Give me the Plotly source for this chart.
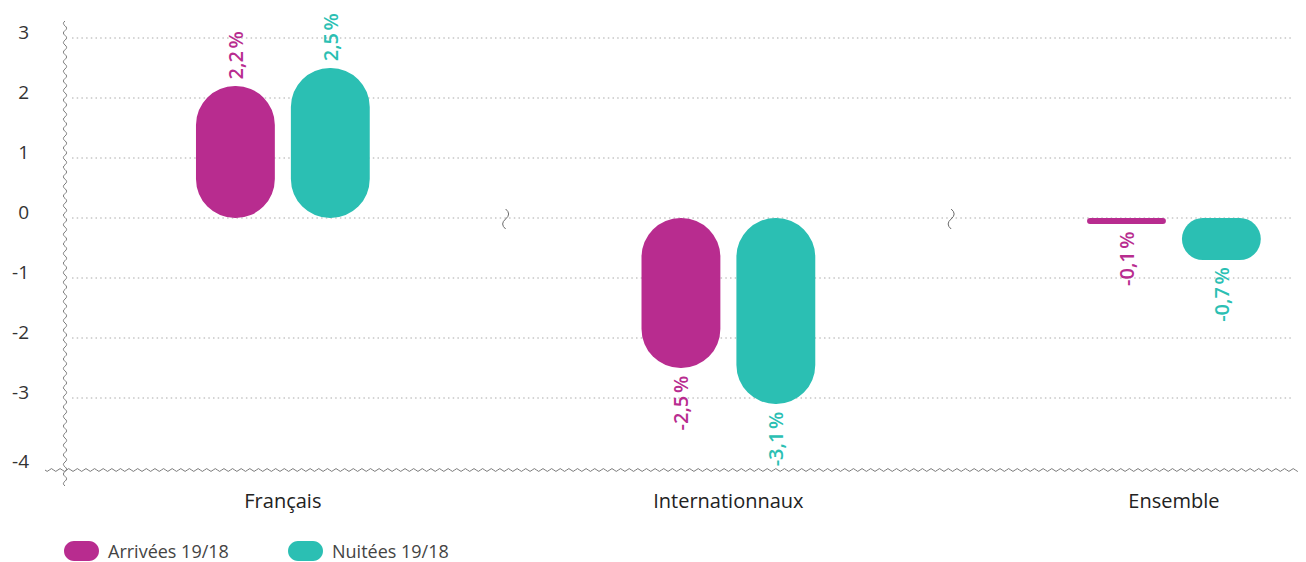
import math
import plotly.graph_objects as go

# ---------------- data ----------------
categories = ["Français", "Internationnaux", "Ensemble"]
series_names = ["Arrivées 19/18", "Nuitées 19/18"]
arrivees = [2.2, -2.5, -0.1]
nuitees = [2.5, -3.1, -0.7]
y_tick_labels = [3, 2, 1, 0, -1, -2, -3, -4]

# ---------------- style ----------------
colors = ["#B82C8F", "#2BBFB3"]
FONT = "Open Sans"
W, H = 1306, 562
OFF = 8                       # page body margin of the html page
REF_L, REF_T, REF_R, REF_B = 65, 20, 1300, 470   # plot area in screen pixels
ML, MT = REF_L - OFF, REF_T - OFF
MR, MB = W - (REF_R - OFF), H - (REF_B - OFF)
PW = REF_R - REF_L
PH = REF_B - REF_T
Y0, Y1 = -4.2, 3.3
X0, X1 = -0.489, 2.283
PXU = PH / (Y1 - Y0)
PXC = PW / (X1 - X0)
BW = 0.177
offsets = [-0.195, 0.018]
AXIS_COL = "#7a7a7a"


def to_paper(px, py):
    return (px - REF_L) / PW, (REF_B - py) / PH


def pt(px, py):
    x, y = to_paper(px, py)
    return f"{x:.6f},{y:.6f}"


def wave_path(x0, y0, x1, y1, period=8.6, amp=1.4):
    L = math.hypot(x1 - x0, y1 - y0)
    ux, uy = (x1 - x0) / L, (y1 - y0) / L
    nx, ny = -uy, ux
    n = int(L / (period / 2))
    half = L / n
    d = "M " + pt(x0, y0)
    for k in range(n):
        sgn = 1 if k % 2 == 0 else -1
        cx = x0 + ux * half * (k + 0.5) + nx * 2 * amp * sgn
        cy = y0 + uy * half * (k + 0.5) + ny * 2 * amp * sgn
        ex = x0 + ux * half * (k + 1)
        ey = y0 + uy * half * (k + 1)
        d += " Q " + pt(cx, cy) + " " + pt(ex, ey)
    return d


def pill_path(x0, y0, x1, y1):
    r = (y1 - y0) / 2
    yc = (y0 + y1) / 2
    k = 0.5523 * r
    return (
        "M " + pt(x0 + r, y0) + " L " + pt(x1 - r, y0)
        + " C " + pt(x1 - r + k, y0) + " " + pt(x1, yc - k) + " " + pt(x1, yc)
        + " C " + pt(x1, yc + k) + " " + pt(x1 - r + k, y1) + " " + pt(x1 - r, y1)
        + " L " + pt(x0 + r, y1)
        + " C " + pt(x0 + r - k, y1) + " " + pt(x0, yc + k) + " " + pt(x0, yc)
        + " C " + pt(x0, yc - k) + " " + pt(x0 + r - k, y0) + " " + pt(x0 + r, y0) + " Z"
    )


def fmt(v):
    return f"{v:.1f}".replace(".", ",") + "\u202f%"


fig = go.Figure()
annotations = []
for name, vals, col, off in zip(series_names, [arrivees, nuitees], colors, offsets):
    for i, v in enumerate(vals):
        r = min(BW * PXC / 2, abs(v) * PXU / 2)
        # explicit base -> plotly rounds both ends -> pill shape
        fig.add_bar(
            x=[i], y=[v], base=[0],
            width=BW, offset=off,
            marker=dict(color=col, line_width=0, cornerradius=r),
            showlegend=False, hoverinfo="skip",
        )
        annotations.append(dict(
            x=i + off + BW / 2, y=v, xref="x", yref="y",
            text=fmt(v), textangle=-90, showarrow=False,
            yanchor="bottom" if v > 0 else "top",
            yshift=5 if v > 0 else -5,
            font=dict(family=FONT, size=20, color=col, weight=600),
        ))

shapes = []
# dotted gridlines
gx0, _ = to_paper(72, 0)
gx1, _ = to_paper(1292, 0)
for t in y_tick_labels:
    if t > Y0 + 0.25:
        shapes.append(dict(type="line", xref="paper", yref="y", x0=gx0, x1=gx1, y0=t, y1=t,
                           line=dict(color="#a9a9a9", width=1, dash="1.5px,3.2px"), layer="below"))
# wavy axes
shapes.append(dict(type="path", xref="paper", yref="paper",
                   path=wave_path(REF_L, 21, REF_L, 486, period=9.5, amp=1.6),
                   line=dict(color=AXIS_COL, width=1)))
shapes.append(dict(type="path", xref="paper", yref="paper",
                   path=wave_path(45, REF_B, 1304, REF_B), line=dict(color=AXIS_COL, width=1)))
# break marks on the zero line between categories
zero_py = REF_B - (0 - Y0) * PXU
for i in range(len(categories) - 1):
    bx = REF_L + (i + 0.5 - X0) * PXC
    d = ("M " + pt(bx, zero_py - 9) + " Q " + pt(bx + 6, zero_py - 4) + " " + pt(bx, zero_py + 1)
         + " Q " + pt(bx - 6, zero_py + 6) + " " + pt(bx, zero_py + 11))
    shapes.append(dict(type="path", xref="paper", yref="paper", path=d,
                       line=dict(color="#6a6a6a", width=1)))

# custom legend (pill markers)
leg_x = [64, 288]
for lx, name, col in zip(leg_x, series_names, colors):
    shapes.append(dict(type="path", xref="paper", yref="paper", path=pill_path(lx, 541, lx + 35, 561),
                       fillcolor=col, line=dict(width=0)))
    tx, ty = to_paper(lx + 42, 551)
    annotations.append(dict(x=tx, y=ty, xref="paper", yref="paper", text=name, showarrow=False,
                            xanchor="left", yanchor="middle",
                            font=dict(family=FONT, size=18, color="#444444")))

tick_pos = [t if t > Y0 + 0.25 else Y0 + 0.05 for t in y_tick_labels]

fig.update_layout(
    width=W, height=H,
    margin=dict(l=ML, r=MR, t=MT, b=MB, autoexpand=False),
    barmode="overlay",
    plot_bgcolor="white", paper_bgcolor="white",
    showlegend=False, hovermode=False,
    font=dict(family=FONT, size=18, color="#333333"),
    xaxis=dict(range=[X0, X1], tickvals=list(range(len(categories))), ticktext=categories,
               showgrid=False, zeroline=False, showline=False, ticks="", automargin=False,
               tickfont=dict(size=20, color="#222222"), ticklabelstandoff=17, fixedrange=True),
    yaxis=dict(range=[Y0, Y1], tickvals=tick_pos, ticktext=[str(t) for t in y_tick_labels],
               showgrid=False, zeroline=False, showline=False, ticks="", automargin=False,
               tickfont=dict(size=19, color="#333333"), ticklabelstandoff=35, ticklabelshift=-6,
               fixedrange=True),
    shapes=shapes,
    annotations=annotations,
)

fig.write_html("out.html")
